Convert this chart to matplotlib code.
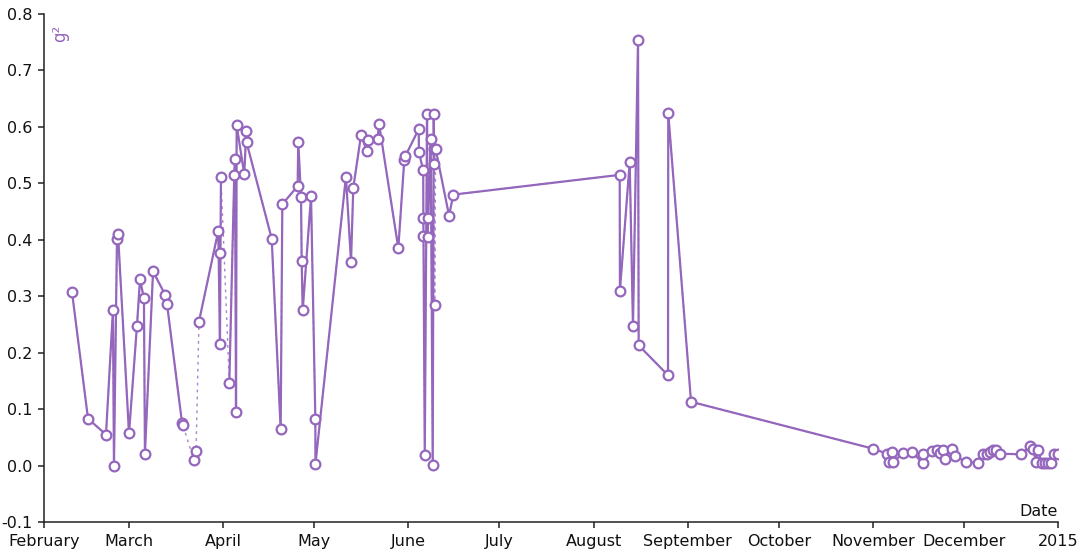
import numpy as np
import pandas as pd
import matplotlib
matplotlib.use("Agg")
import matplotlib.pyplot as plt
import matplotlib.dates as mdates
from matplotlib.ticker import FuncFormatter

# g^2 readings over 2014; NaN marks a break in the record
dates = [
    "2014-02-10 05:00", "2014-02-15 12:00", "2014-02-21 10:00", "2014-02-23 17:00",
    "2014-02-24 01:00", "2014-02-25 01:00", "2014-02-25 09:00", "2014-03-01 00:00",
    "2014-03-03 15:00", "2014-03-04 15:00", "2014-03-05 22:00", "2014-03-06 06:00",
    "2014-03-08 22:00", "2014-03-12 21:00", "2014-03-13 12:00", "2014-03-18 11:00",
    "2014-03-18 19:00", "2014-03-20 12:00", "2014-03-22 10:00", "2014-03-23 02:00",
    "2014-03-23 14:00", "2014-03-24 01:00", "2014-03-30 10:00", "2014-03-30 23:00",
    "2014-03-31 03:00", "2014-03-31 07:00", "2014-04-02 00:00", "2014-04-03 01:00",
    "2014-04-04 16:00", "2014-04-04 22:00", "2014-04-05 06:00", "2014-04-05 11:00",
    "2014-04-07 23:00", "2014-04-08 15:00", "2014-04-08 17:00", "2014-04-17 00:00",
    "2014-04-19 23:00", "2014-04-20 12:00", "2014-04-25 13:00", "2014-04-25 18:00",
    "2014-04-26 16:00", "2014-04-26 21:00", "2014-04-27 05:00", "2014-04-29 23:00",
    "2014-05-01 09:00", "2014-05-01 10:00", "2014-05-11 11:00", "2014-05-13 03:00",
    "2014-05-13 21:00", "2014-05-16 10:00", "2014-05-18 09:00", "2014-05-18 15:00",
    "2014-05-21 22:00", "2014-05-22 08:00", "2014-05-28 17:00", "2014-05-30 16:00",
    "2014-05-31 00:00", "2014-06-04 10:00", "2014-06-04 12:00", "2014-06-05 22:00",
    "2014-06-05 23:00", "2014-06-06 00:00", "2014-06-06 10:00", "2014-06-07 04:00",
    "2014-06-07 08:00", "2014-06-07 14:00", "2014-06-08 09:00", "2014-06-09 01:00",
    "2014-06-09 09:00", "2014-06-09 12:00", "2014-06-09 14:00", "2014-06-09 15:00",
    "2014-06-09 17:00", "2014-06-09 20:00", "2014-06-10 00:00", "2014-06-14 10:00",
    "2014-06-15 20:00", "2014-08-09 15:00", "2014-08-09 17:00", "2014-08-12 22:00",
    "2014-08-14 00:00", "2014-08-15 16:00", "2014-08-15 21:00", "2014-08-25 13:00",
    "2014-08-25 15:00", "2014-09-02 03:00", "2014-11-01 00:00", "2014-11-05 18:00",
    "2014-11-06 10:00", "2014-11-07 05:00", "2014-11-07 17:00", "2014-11-11 01:00",
    "2014-11-13 19:00", "2014-11-17 10:00", "2014-11-17 14:00", "2014-11-20 09:00",
    "2014-11-22 01:00", "2014-11-23 03:00", "2014-11-24 00:00", "2014-11-24 18:00",
    "2014-11-26 23:00", "2014-11-28 02:00", "2014-12-01 17:00", "2014-12-05 18:00",
    "2014-12-07 09:00", "2014-12-08 12:00", "2014-12-09 14:00", "2014-12-10 16:00",
    "2014-12-11 14:00", "2014-12-12 21:00", "2014-12-19 19:00", "2014-12-22 18:00",
    "2014-12-23 20:00", "2014-12-24 18:00", "2014-12-25 12:00", "2014-12-26 14:00",
    "2014-12-27 17:00", "2014-12-28 19:00", "2014-12-29 17:00", "2014-12-30 19:00",
    "2015-01-01 03:00",
]
g2 = [
    0.308, 0.083, 0.055, 0.275,
    0.000, 0.401, 0.411, 0.057,
    0.248, 0.330, 0.296, 0.021,
    0.344, 0.303, 0.287, 0.076,
    0.071, np.nan, 0.009, 0.026,
    np.nan, 0.255, 0.416, 0.216,
    0.377, 0.511, np.nan, 0.147,
    0.514, 0.543, 0.095, 0.603,
    0.516, 0.592, 0.573, 0.402,
    0.064, 0.463, 0.495, 0.574,
    0.475, 0.363, 0.275, 0.477,
    0.083, 0.003, 0.512, 0.361,
    0.492, 0.585, 0.557, 0.577,
    0.579, 0.606, 0.385, 0.541,
    0.548, 0.596, 0.555, 0.523,
    0.438, 0.407, 0.018, 0.622,
    0.405, 0.438, 0.579, 0.001,
    0.623, 0.561, 0.535, np.nan,
    0.285, np.nan, 0.561, 0.443,
    0.480, 0.515, 0.310, 0.537,
    0.248, 0.754, 0.213, 0.160,
    0.624, 0.113, 0.030, 0.021,
    0.007, 0.024, 0.007, 0.022,
    0.024, 0.005, 0.020, 0.025,
    0.027, 0.022, 0.028, 0.012,
    0.030, 0.017, 0.006, 0.005,
    0.021, 0.020, 0.024, 0.027,
    0.027, 0.021, 0.020, 0.034,
    0.030, 0.007, 0.027, 0.005,
    0.005, 0.005, 0.004, 0.020,
    0.021,
]
y_ticks = [-0.1, 0.0, 0.1, 0.2, 0.3, 0.4, 0.5, 0.6, 0.7, 0.8]

df = pd.DataFrame({"date": pd.to_datetime(dates), "g2": g2})
known = df.dropna()

purple = "#9467bd"
plt.rcParams["font.family"] = "DejaVu Sans"
plt.rcParams["axes.unicode_minus"] = False

fig = plt.figure(figsize=(10.85, 5.57), dpi=100)
ax = fig.add_axes([44 / 1085, 35 / 557, 1014 / 1085, 508 / 557])

# dotted trace bridges the gaps, solid trace only where data is continuous
ax.plot(known["date"], known["g2"], color=purple, lw=1.0, ls=(0, (2, 3)),
        alpha=0.8, zorder=2)
ax.plot(df["date"], df["g2"], color=purple, lw=1.6, marker="o", ms=7,
        mfc="white", mec=purple, mew=1.6, zorder=3)

ax.set_xlim(pd.Timestamp("2014-02-01"), pd.Timestamp("2015-01-01"))
ax.set_ylim(-0.1, 0.8)
ax.set_yticks(y_ticks)
ax.yaxis.set_major_formatter(FuncFormatter(lambda v, p: f"{v:.1f}"))

ax.xaxis.set_major_locator(mdates.MonthLocator())


def month_label(v, pos):
    d = mdates.num2date(v)
    return str(d.year) if d.month == 1 else d.strftime("%B")


ax.xaxis.set_major_formatter(FuncFormatter(month_label))

for side in ["top", "right"]:
    ax.spines[side].set_visible(False)
for side in ["left", "bottom"]:
    ax.spines[side].set_linewidth(1.1)
    ax.spines[side].set_color("#222222")
ax.tick_params(axis="both", length=4.5, width=1.1, color="#222222",
               labelsize=11.5, labelcolor="#111111")
ax.tick_params(axis="y", pad=4)
ax.tick_params(axis="x", pad=4)

ax.text(1.0, 0.012, "Date", transform=ax.transAxes, ha="right",
        va="baseline", fontsize=11.5, color="#111111")
ax.text(0.016, 0.979, "g²", transform=ax.transAxes, rotation=90,
        ha="center", va="top", fontsize=12, color=purple)

fig.savefig("out.png", dpi=100, facecolor="white")
